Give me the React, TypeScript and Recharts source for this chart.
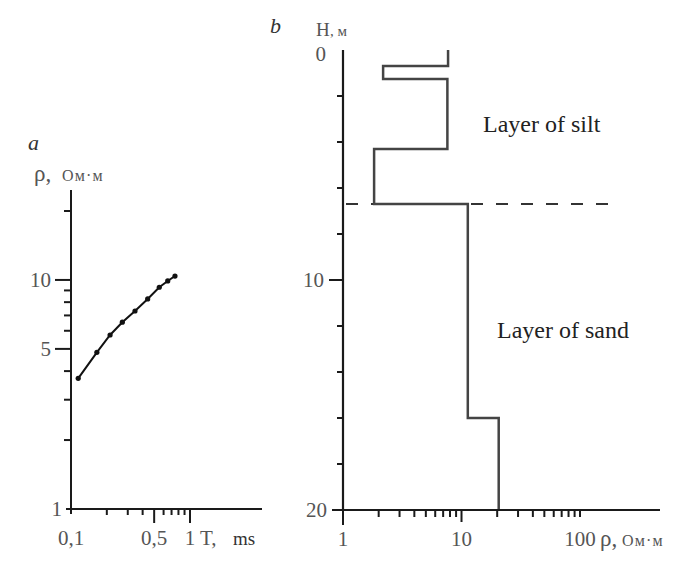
import React from 'react';
import { LineChart, Line, XAxis, YAxis } from 'recharts';

// ---- Chart a: apparent resistivity vs time ----
const periodT = [0.115, 0.165, 0.213, 0.27, 0.345, 0.441, 0.552, 0.65, 0.748];
const apparentRho = [3.72, 4.83, 5.75, 6.54, 7.32, 8.26, 9.29, 9.9, 10.4];
const aXTicks = [0.1, 0.2, 0.3, 0.4, 0.5, 0.6, 0.7, 0.8, 0.9, 1];
const aXLabels: Record<string, string> = { '0.1': '0,1', '0.5': '0,5', '1': '1' };
const aYTicks = [1, 2, 3, 4, 5, 6, 7, 8, 9, 10, 20];
const aYLabels: Record<string, string> = { '1': '1', '5': '5', '10': '10' };

// ---- Chart b: layered resistivity vs depth ----
const profileRho = [7.7, 7.7, 2.18, 2.18, 7.6, 7.6, 1.83, 1.83, 11.3, 11.3, 20.6, 20.6];
const profileDepth = [0, 0.7, 0.7, 1.26, 1.26, 4.3, 4.3, 6.7, 6.7, 16.0, 16.0, 20];
const boundaryRho = [1.06, 183];
const boundaryDepth = [6.7, 6.7];
const bXTicks = [1, 2, 3, 4, 5, 6, 7, 8, 9, 10, 20, 30, 40, 50, 60, 70, 80, 90, 100];
const bXLabels: Record<string, string> = { '1': '1', '10': '10', '100': '100' };
const bYTicks = [0, 2, 4, 6, 8, 10, 12, 14, 16, 18, 20];
const bYLabels: Record<string, string> = { '0': '0', '10': '10', '20': '20' };

const aData = periodT.map((t, i) => ({ t, rho: apparentRho[i] }));
const profileData = profileRho.map((rho, i) => ({ rho, h: profileDepth[i] }));
const boundaryData = boundaryRho.map((rho, i) => ({ rho, h: boundaryDepth[i] }));

const SERIF = '"Liberation Serif", "Times New Roman", serif';
const TICK_FILL = '#555';
const AXIS = '#1a1a1a';

const AYTick = (props: any) => {
  const { x, y, payload } = props;
  const v = payload.value;
  const lab = aYLabels[String(v)];
  const len = v === 5 || v === 10 ? 16 : v === 1 ? 5 : 7;
  return (
    <g>
      <line x1={x} x2={x - len} y1={y} y2={y} stroke={AXIS} strokeWidth={2} />
      {lab && (
        <text x={x - len - 4} y={y + 7} textAnchor="end" fontFamily={SERIF} fontSize={21} fill={TICK_FILL}>
          {lab}
        </text>
      )}
    </g>
  );
};

const AXTick = (props: any) => {
  const { x, y, payload } = props;
  const v = payload.value;
  const lab = aXLabels[String(v)];
  const len = v === 0.5 || v === 1 ? 14 : v === 0.1 ? 5 : 6;
  return (
    <g>
      <line x1={x} x2={x} y1={y} y2={y + len} stroke={AXIS} strokeWidth={2} />
      {lab && (
        <text x={x} y={y + 36} textAnchor="middle" fontFamily={SERIF} fontSize={21} fill={TICK_FILL}>
          {lab}
        </text>
      )}
    </g>
  );
};

const BYTick = (props: any) => {
  const { x, y, payload } = props;
  const v = payload.value;
  const lab = bYLabels[String(v)];
  const len = v === 0 ? 0 : v === 10 ? 14 : v === 20 ? 11 : 6;
  return (
    <g>
      {len > 0 && <line x1={x} x2={x - len} y1={y} y2={y} stroke={AXIS} strokeWidth={2} />}
      {lab && (
        <text
          x={v === 0 ? x - 17 : x - len - 5}
          y={v === 0 ? y + 11 : y + 7}
          textAnchor="end"
          fontFamily={SERIF}
          fontSize={21}
          fill={TICK_FILL}
        >
          {lab}
        </text>
      )}
    </g>
  );
};

const BXTick = (props: any) => {
  const { x, y, payload } = props;
  const v = payload.value;
  const lab = bXLabels[String(v)];
  const len = v === 1 ? 15 : v === 10 ? 12 : 7;
  return (
    <g>
      <line x1={x} x2={x} y1={y} y2={y + len} stroke={AXIS} strokeWidth={2} />
      {lab && (
        <text x={x} y={y + 36} textAnchor="middle" fontFamily={SERIF} fontSize={21} fill={TICK_FILL}>
          {lab}
        </text>
      )}
    </g>
  );
};

export default function App() {
  return (
    <div style={{ position: 'absolute', left: 0, top: 0, width: 698, height: 566, background: '#fff' }}>
      <div style={{ position: 'absolute', left: 0, top: 0 }}>
        <LineChart width={300} height={566} data={aData} margin={{ top: 190, right: 38, bottom: 17, left: 11 }}>
          <XAxis
            type="number"
            dataKey="t"
            scale="log"
            domain={[0.1, 4.03]}
            allowDataOverflow
            ticks={aXTicks}
            interval={0}
            height={40}
            tickSize={0}
            tickMargin={0}
            tickLine={false}
            axisLine={{ stroke: AXIS, strokeWidth: 2 }}
            tick={<AXTick />}
          />
          <YAxis
            type="number"
            dataKey="rho"
            scale="log"
            domain={[1, 24.7]}
            allowDataOverflow
            ticks={aYTicks}
            interval={0}
            width={60}
            tickSize={0}
            tickMargin={0}
            tickLine={false}
            axisLine={{ stroke: AXIS, strokeWidth: 2 }}
            tick={<AYTick />}
          />
          <Line
            type="linear"
            dataKey="rho"
            stroke="#111"
            strokeWidth={2}
            dot={{ r: 2.6, fill: '#111', stroke: '#111', strokeWidth: 0 }}
            isAnimationActive={false}
          />
        </LineChart>
      </div>
      <div style={{ position: 'absolute', left: 280, top: 0 }}>
        <LineChart width={418} height={566} margin={{ top: 50, right: 38, bottom: 16, left: 13 }}>
          <XAxis
            type="number"
            dataKey="rho"
            scale="log"
            domain={[1, 473]}
            allowDataOverflow
            ticks={bXTicks}
            interval={0}
            height={40}
            tickSize={0}
            tickMargin={0}
            tickLine={false}
            axisLine={{ stroke: AXIS, strokeWidth: 2.2 }}
            tick={<BXTick />}
          />
          <YAxis
            type="number"
            dataKey="h"
            reversed
            domain={[0, 20]}
            allowDataOverflow
            ticks={bYTicks}
            interval={0}
            width={50}
            tickSize={0}
            tickMargin={0}
            tickLine={false}
            axisLine={{ stroke: AXIS, strokeWidth: 2.2 }}
            tick={<BYTick />}
          />
          <Line
            data={boundaryData}
            type="linear"
            dataKey="h"
            stroke="#333"
            strokeWidth={2}
            strokeDasharray="12 13"
            dot={false}
            isAnimationActive={false}
          />
          <Line
            data={profileData}
            type="linear"
            dataKey="h"
            stroke="#444"
            strokeWidth={2.5}
            dot={false}
            isAnimationActive={false}
          />
        </LineChart>
      </div>
      <svg
        width={698}
        height={566}
        style={{ position: 'absolute', left: 0, top: 0, pointerEvents: 'none' }}
        fontFamily={SERIF}
      >
        <text x={28} y={150} fontSize={22} fontStyle="italic" fill="#333">a</text>
        <text x={34} y={181} fontSize={23} fill={TICK_FILL}>ρ,</text>
        <text x={62} y={181} fontSize={16} letterSpacing={1.2} fill={TICK_FILL}>Ом·м</text>
        <text x={200} y={545} fontSize={21} fill={TICK_FILL}>T,</text>
        <text x={233} y={545} fontSize={19} fill="#333">ms</text>

        <text x={270} y={33} fontSize={22} fontStyle="italic" fill="#333">b</text>
        <text x={316} y={36} fontSize={19} fill={TICK_FILL}>H</text>
        <text x={330} y={36} fontSize={15} fill={TICK_FILL}>, м</text>
        <text x={483} y={132} fontSize={24} fill="#222">Layer of silt</text>
        <text x={497} y={338} fontSize={24} fill="#222">Layer of sand</text>
        <text x={600} y={546} fontSize={23} fill={TICK_FILL}>ρ,</text>
        <text x={622} y={546} fontSize={16} letterSpacing={1.2} fill={TICK_FILL}>Ом·м</text>
      </svg>
    </div>
  );
}
